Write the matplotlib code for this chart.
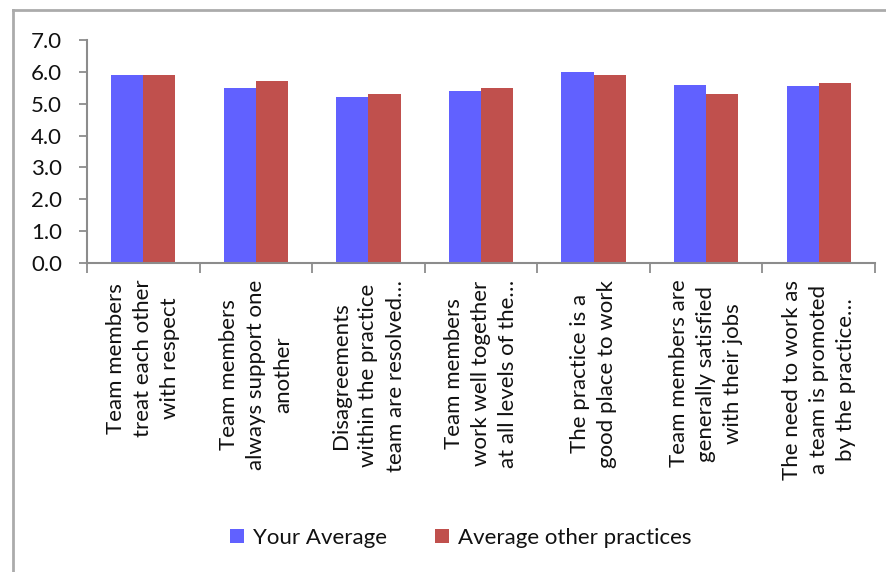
import numpy as np
import matplotlib
matplotlib.use('Agg')
import matplotlib.pyplot as plt
from matplotlib.lines import Line2D

categories = [
    "Team members\ntreat each other\nwith respect",
    "Team members\nalways support one\nanother",
    "Disagreements\nwithin the practice\nteam are resolved\u2026",
    "Team members\nwork well together\nat all levels of the\u2026",
    "The practice is a\ngood place to work",
    "Team members are\ngenerally satisfied\nwith their jobs",
    "The need to work as\na team is promoted\nby the practice\u2026",
]
your_average = [5.9, 5.5, 5.2, 5.4, 6.0, 5.6, 5.55]
other_average = [5.9, 5.7, 5.3, 5.5, 5.9, 5.3, 5.65]
series_names = ["Your Average", "Average other practices"]

BLUE = "#6161FF"
RED = "#C0504D"
GREY = "#8C8C8C"

plt.rcParams['font.family'] = ['Lato', 'DejaVu Sans']

fig = plt.figure(figsize=(8.86, 5.72), dpi=100)
ax = fig.add_axes([87 / 886, 1 - 263 / 572, 788 / 886, 223 / 572])

x = np.arange(len(categories))
w = 0.285
ax.bar(x - w / 2, your_average, w, color=BLUE, label=series_names[0], zorder=2)
ax.bar(x + w / 2, other_average, w, color=RED, label=series_names[1], zorder=2)

ax.set_xlim(-0.5, len(categories) - 0.5)
ax.set_ylim(0, 7)
ax.set_yticks(np.arange(0, 7.1, 1.0))
ax.set_yticklabels([f"{v:.1f}" for v in np.arange(0, 7.1, 1.0)])
ax.tick_params(axis='y', length=6, width=1.3, color=GREY, pad=12,
               labelsize=16, labelcolor="#111111")

# category labels at group centres, tick marks at group boundaries
ax.set_xticks(x)
ax.set_xticklabels(categories, rotation=90, ha='center', va='top',
                   multialignment='center', linespacing=1.45,
                   fontsize=16, color="#111111")
ax.tick_params(axis='x', length=0, pad=12)
ax.set_xticks(np.arange(-0.5, len(categories)), minor=True)
ax.tick_params(axis='x', which='minor', length=7, width=1.3, color=GREY)

for side in ("top", "right"):
    ax.spines[side].set_visible(False)
for side in ("left", "bottom"):
    ax.spines[side].set_color(GREY)
    ax.spines[side].set_linewidth(1.5)

fig.legend(loc='center', bbox_to_anchor=(0.52, 1 - 538 / 572), ncol=2,
           frameon=False, fontsize=16, handlelength=0.6, handleheight=0.6,
           handletextpad=0.4, columnspacing=2.2, labelcolor="#111111")

# outer chart frame (left and top edges)
fig.add_artist(Line2D([13 / 886, 13 / 886], [0, 1 - 10 / 572],
                      transform=fig.transFigure, color="#ABABAB", lw=2))
fig.add_artist(Line2D([13 / 886, 1], [1 - 10 / 572, 1 - 10 / 572],
                      transform=fig.transFigure, color="#ABABAB", lw=2))

fig.savefig("out.png", dpi=100, facecolor="white")
